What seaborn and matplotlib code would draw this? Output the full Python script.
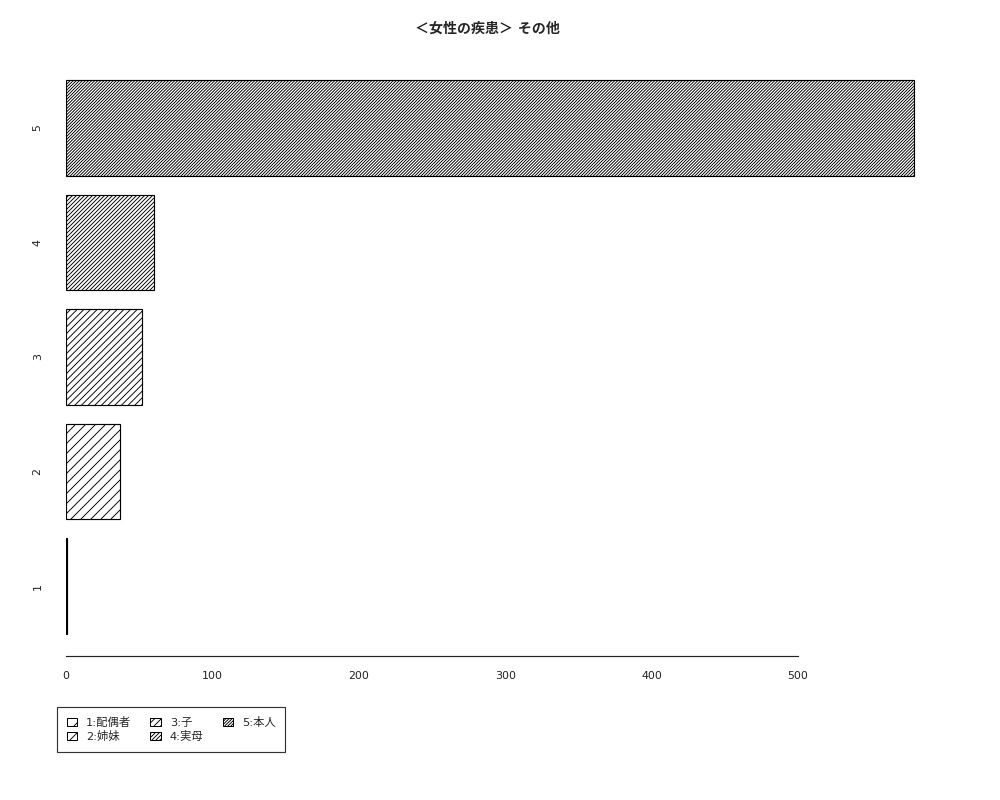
import pandas as pd
import matplotlib
matplotlib.use("Agg")
import matplotlib.pyplot as plt
import matplotlib.patches as mpatches
import seaborn as sns

# data
categories = ["1", "2", "3", "4", "5"]
values = [1, 37, 52, 60, 579]
legend_labels = ["1:配偶者", "2:姉妹", "3:子", "4:実母", "5:本人"]
title = "＜女性の疾患＞ その他"

# hatch density grows with the category (R density style)
hatches = {"1": "/" * 2, "2": "/" * 4, "3": "/" * 6, "4": "/" * 10, "5": "/" * 13}

sns.set_style("white")
plt.rcParams["font.family"] = ["DejaVu Sans", "Noto Sans CJK JP"]
plt.rcParams["hatch.linewidth"] = 0.55
plt.rcParams["hatch.color"] = "#333333"

df = pd.DataFrame({"cat": categories, "val": values})
order = categories[::-1]

fig = plt.figure(figsize=(1000 / 120, 800 / 120), dpi=120)
ax = fig.add_axes([0.066, 0.18, 0.8784, 0.7475])

sns.barplot(data=df, x="val", y="cat", order=order, orient="h", width=1 / 1.2,
            color="white", edgecolor="black", linewidth=0.7, ax=ax)

for patch, cat in zip(ax.patches, order):
    patch.set_facecolor("white")
    patch.set_hatch(hatches[cat])

ax.set_xlim(0, 600)
ax.set_ylim(4.61, -0.61)
ax.set_xlabel("")
ax.set_ylabel("")
ax.set_xticks([0, 100, 200, 300, 400, 500])
ax.tick_params(axis="x", length=4.2, width=0.7, pad=5, labelsize=6.6,
               colors="#222222")
ax.tick_params(axis="y", length=0, pad=14, labelsize=6.6, colors="#222222")
for lab in ax.get_yticklabels():
    lab.set_rotation(90)
    lab.set_va("center")
for s in ["top", "right", "left"]:
    ax.spines[s].set_visible(False)
ax.spines["bottom"].set_bounds(0, 500)
ax.spines["bottom"].set_color("#222222")
ax.spines["bottom"].set_linewidth(0.7)
ax.grid(False)

fig.text(0.487, 1 - 29 / 800, title, ha="center", va="center",
         fontsize=8.4, fontweight="bold")

handles = [mpatches.Patch(facecolor="white", edgecolor="black", linewidth=0.6,
                          hatch=hatches[c]) for c in categories]
leg = fig.legend(handles, legend_labels, ncol=3, loc="upper left",
                 bbox_to_anchor=(0.057, 1 - 707 / 800), bbox_transform=fig.transFigure,
                 fontsize=6.8, frameon=True, fancybox=False, borderaxespad=0,
                 handlelength=0.9, handleheight=0.75, handletextpad=0.8,
                 columnspacing=1.7, labelspacing=0.3, borderpad=0.85)
leg.get_frame().set_edgecolor("black")
leg.get_frame().set_linewidth(0.7)

fig.savefig("out.png", dpi=120, facecolor="white")
